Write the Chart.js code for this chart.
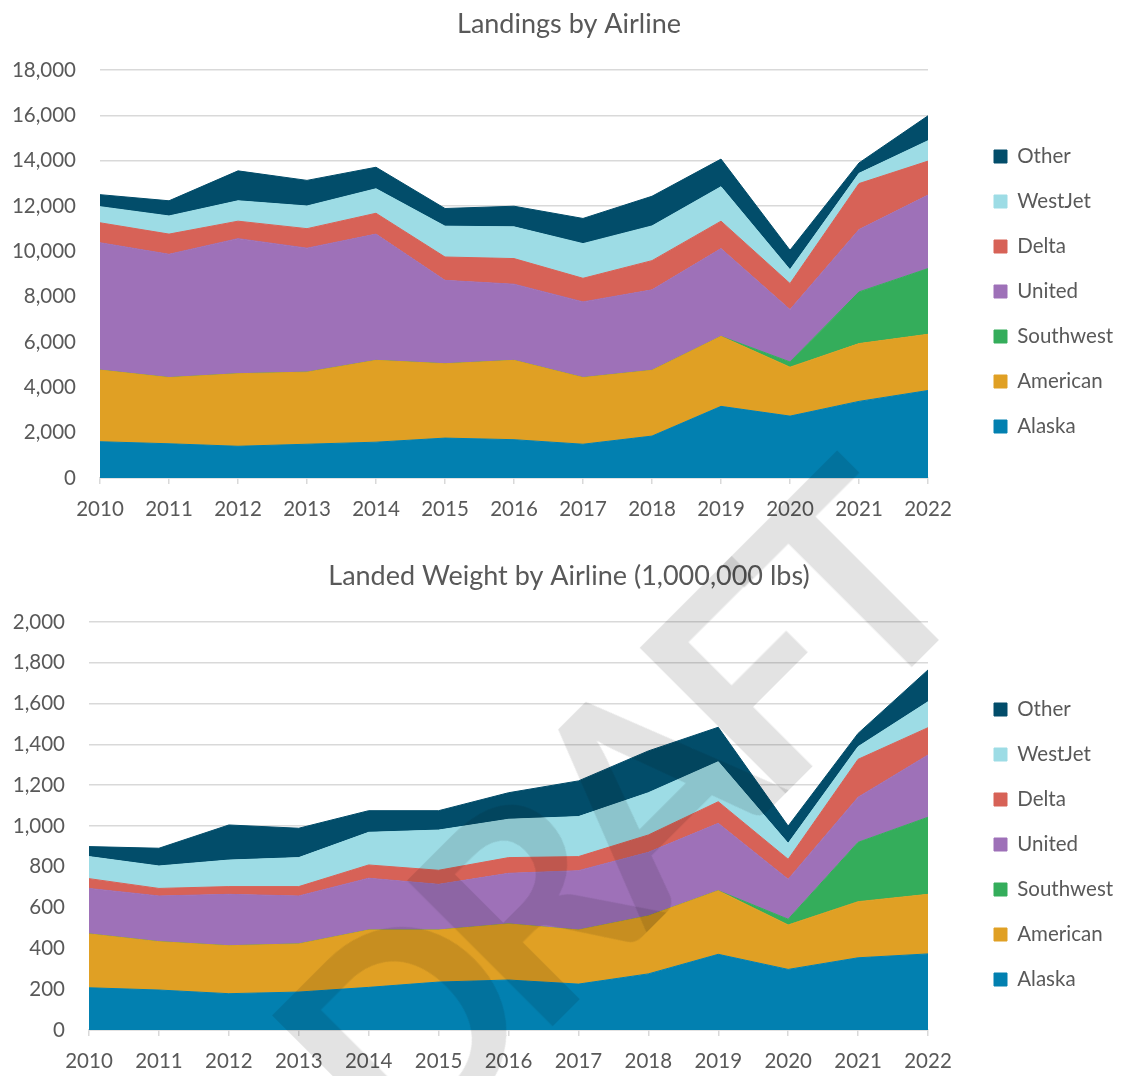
<!DOCTYPE html>
<html lang="en">
<head>
<meta charset="UTF-8">
<title>Landings and Landed Weight by Airline</title>
<script src="https://cdn.jsdelivr.net/npm/chart.js"></script>
<style>
  html, body { margin: 0; padding: 0; background: #fff; }
  body { width: 1126px; height: 1076px; position: relative; overflow: hidden; }
  .chart { position: absolute; left: 0; width: 1126px; }
  #topBox { top: 0; height: 540px; }
  #bottomBox { top: 552px; height: 524px; }
  .draft {
    position: absolute; left: 607px; top: 817px;
    transform: translate(-50%, -50%) rotate(-45deg);
    font: bold 285px Lato, sans-serif; line-height: 1; letter-spacing: -26px;
    color: rgba(0, 0, 0, 0.11); white-space: nowrap; pointer-events: none;
  }
</style>
</head>
<body>
<div class="chart" id="topBox"><canvas id="landings"></canvas></div>
<div class="chart" id="bottomBox"><canvas id="weight"></canvas></div>
<div class="draft">DRAFT</div>

<script>
const years = ['2010','2011','2012','2013','2014','2015','2016','2017','2018','2019','2020','2021','2022'];
const airlines = ['Alaska', 'American', 'Southwest', 'United', 'Delta', 'WestJet', 'Other'];
const colors = ['#0280B0', '#E0A024', '#34AD5B', '#9E71B8', '#D76257', '#9DDCE5', '#024D6A'];

// landings per airline
const landAlaska    = [1600, 1510, 1400, 1490, 1580, 1760, 1690, 1490, 1850, 3160, 2730, 3380, 3860];
const landAmerican  = [3160, 2920, 3200, 3180, 3610, 3280, 3500, 2940, 2900, 3090, 2160, 2550, 2480];
const landSouthwest = [0, 0, 0, 0, 0, 0, 0, 0, 0, 0, 230, 2280, 2900];
const landUnited    = [5620, 5440, 5960, 5470, 5570, 3680, 3360, 3340, 3550, 3870, 2310, 2750, 3240];
const landDelta     = [880, 890, 770, 860, 920, 1030, 1130, 1040, 1290, 1210, 1150, 2030, 1500];
const landWestJet   = [710, 800, 900, 1000, 1080, 1360, 1400, 1530, 1530, 1520, 610, 450, 900];
const landOther     = [530, 670, 1320, 1130, 950, 780, 910, 1110, 1310, 1220, 860, 460, 1100];

// landed weight per airline, millions of lbs
const wtAlaska    = [207, 196, 178, 186, 209, 235, 245, 225, 275, 371, 297, 354, 373];
const wtAmerican  = [264, 237, 235, 236, 281, 255, 275, 265, 284, 312, 218, 275, 292];
const wtSouthwest = [0, 0, 0, 0, 0, 0, 0, 0, 0, 0, 28, 291, 378];
const wtUnited    = [223, 224, 252, 235, 254, 224, 248, 291, 312, 330, 196, 221, 305];
const wtDelta     = [48, 37, 38, 46, 65, 69, 77, 69, 85, 106, 98, 186, 134];
const wtWestJet   = [108, 110, 130, 142, 160, 197, 188, 196, 207, 196, 78, 62, 127];
const wtOther     = [49, 87, 172, 144, 106, 95, 130, 175, 205, 169, 85, 65, 156];

const textColor = '#595959';
const gridColor = '#d9d9d9';
const PLOT_RIGHT = 928;

// put the legend and the title where the reference has them
const placeBoxes = {
  id: 'placeBoxes',
  afterLayout(chart, args, opts) {
    const lg = chart.legend;
    const pad = lg.options.labels.padding;
    const dx = opts.legendX - (lg.left + pad);
    const dy = opts.legendY - (lg.top + pad);
    lg.left += dx; lg.right += dx;
    lg.top += dy; lg.bottom += dy;

    const t = chart.titleBlock;
    const shift = opts.titleX - (t.left + t.right) / 2;
    t.left += shift; t.right += shift;
  }
};

function drawChart(canvasId, title, series, yMax, yStep, plotLeft, padBottom, legendY) {
  const pad = { top: 0, right: 0, bottom: padBottom, left: 0 };
  const chart = new Chart(document.getElementById(canvasId), {
    type: 'line',
    data: {
      labels: years,
      datasets: airlines.map((name, i) => ({
        label: name,
        data: series[i],
        backgroundColor: colors[i],
        borderColor: colors[i],
        borderWidth: 1,
        pointRadius: 0,
        tension: 0,
        fill: i === 0 ? 'origin' : '-1'
      }))
    },
    options: {
      responsive: true,
      maintainAspectRatio: false,
      animation: false,
      locale: 'en-US',
      layout: { padding: pad },
      plugins: {
        title: {
          display: true, text: title, color: textColor,
          font: { family: 'Lato', size: 27, weight: 'normal' },
          padding: { top: 8, bottom: 29.6 }
        },
        legend: {
          position: 'right', align: 'start', fullSize: false, reverse: true,
          labels: {
            color: textColor, font: { family: 'Lato', size: 20.5 },
            boxWidth: 13, boxHeight: 13, padding: 24.5
          }
        },
        tooltip: { enabled: false },
        placeBoxes: { legendX: 994, legendY: legendY, titleX: 569 }
      },
      scales: {
        x: {
          grid: { drawOnChartArea: false, color: gridColor, lineWidth: 1.5, tickLength: 6 },
          border: { color: gridColor, width: 1.5 },
          ticks: { color: textColor, font: { family: 'Lato', size: 20.5 }, padding: 13, maxRotation: 0, autoSkip: false },
          afterFit: s => { s.height = 46; }
        },
        y: {
          stacked: true, min: 0, max: yMax,
          grid: { color: gridColor, lineWidth: 1.5, drawTicks: false },
          border: { display: false },
          ticks: { stepSize: yStep, color: textColor, font: { family: 'Lato', size: 20.5 }, padding: 24 },
          afterFit: s => { s.width = plotLeft; }
        }
      }
    },
    plugins: [placeBoxes]
  });

  // legend width is only known after a first layout: pin the plot's right edge, lay out again
  pad.right += chart.chartArea.right - PLOT_RIGHT;
  chart.update();
  return chart;
}

drawChart('landings', 'Landings by Airline',
  [landAlaska, landAmerican, landSouthwest, landUnited, landDelta, landWestJet, landOther],
  18000, 2000, 100, 16, 146.25);

drawChart('weight', 'Landed Weight by Airline (1,000,000 lbs)',
  [wtAlaska, wtAmerican, wtSouthwest, wtUnited, wtDelta, wtWestJet, wtOther],
  2000, 200, 89, 0, 147.25);
</script>
</body>
</html>
